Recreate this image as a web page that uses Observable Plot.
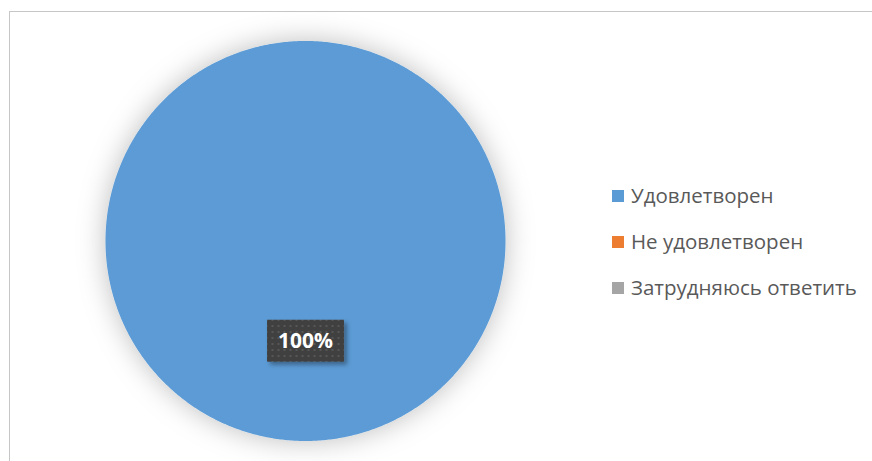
<!DOCTYPE html>
<html>
<head>
<meta charset="utf-8">
<script src="https://cdn.jsdelivr.net/npm/d3@7"></script>
<script src="https://cdn.jsdelivr.net/npm/@observablehq/plot@0.6"></script>
<style>
  html, body { margin: 0; padding: 0; background: #fff; }
  #wrap { position: relative; width: 872px; height: 461px; overflow: hidden; font-family: "Open Sans", "Noto Sans", sans-serif; }
  #frame { position: absolute; left: 9px; top: 11px; width: 900px; height: 500px; border: 1.5px solid #c6c6c6; box-sizing: border-box; }
  #legend { position: absolute; left: 612px; top: 172px; }
  .item { display: flex; align-items: center; height: 46px; font-size: 20.5px; color: #595959; white-space: nowrap; }
  .sw { width: 12px; height: 12px; margin-right: 7px; margin-top: 2px; }
  svg { position: absolute; left: 0; top: 0; }
</style>
</head>
<body>
<div id="wrap">
  <div id="frame"></div>
  <div id="chart"></div>
  <div id="legend"></div>
</div>
<script>
const categories = ["Удовлетворен", "Не удовлетворен", "Затрудняюсь ответить"];
const values = [100, 0, 0];
const colors = ["#5B9BD5", "#ED7D31", "#A5A5A5"];

const total = d3.sum(values);
const arcs = d3.pie().sort(null)(values);

// polygon vertices of each slice, in unit-circle coordinates
const slicePoints = [];
arcs.forEach((a, i) => {
  if (a.endAngle - a.startAngle <= 0) return;
  const n = Math.max(2, Math.ceil((a.endAngle - a.startAngle) / (Math.PI / 360)));
  slicePoints.push({cat: categories[i], x: 0, y: 0});
  for (let k = 0; k <= n; k++) {
    const t = a.startAngle + (a.endAngle - a.startAngle) * k / n;
    slicePoints.push({cat: categories[i], x: Math.sin(t), y: Math.cos(t)});
  }
  slicePoints.push({cat: categories[i], x: 0, y: 0});
});

const labels = arcs.filter(a => a.value > 0).map((a, i) => {
  const mid = (a.startAngle + a.endAngle) / 2;
  return {x: 0.5 * Math.sin(mid), y: 0.5 * Math.cos(mid), text: Math.round(a.value / total * 100) + "%"};
});

const plot = Plot.plot({
  width: 872,
  height: 461,
  margin: 0,
  style: {background: "transparent", overflow: "visible"},
  x: {domain: [-1, 1], range: [105, 505], axis: null},
  y: {domain: [-1, 1], range: [440.5, 40.5], axis: null},
  color: {domain: categories, range: colors},
  marks: [
    Plot.line(slicePoints, {x: "x", y: "y", z: "cat", fill: "cat", stroke: null, curve: "linear", className: "slices"}),
    Plot.text(labels, {x: "x", y: "y", text: "text", fill: "white", fontWeight: "bold", fontSize: 21, fontFamily: "Open Sans", className: "lbl"})
  ]
});
document.getElementById("chart").appendChild(plot);

// defs: shadow filters and label pattern
const svg = d3.select(plot);
const defs = svg.insert("defs", ":first-child");
const f = defs.append("filter").attr("id", "pieShadow").attr("x", "-30%").attr("y", "-30%").attr("width", "160%").attr("height", "160%");
f.append("feDropShadow").attr("dx", 0).attr("dy", 0).attr("stdDeviation", 14).attr("flood-color", "#000").attr("flood-opacity", 0.26);
const f2 = defs.append("filter").attr("id", "boxShadow").attr("x", "-30%").attr("y", "-30%").attr("width", "160%").attr("height", "160%");
f2.append("feDropShadow").attr("dx", 3).attr("dy", 3).attr("stdDeviation", 2).attr("flood-color", "#000").attr("flood-opacity", 0.35);
const pat = defs.append("pattern").attr("id", "dots").attr("patternUnits", "userSpaceOnUse").attr("width", 6).attr("height", 6);
pat.append("rect").attr("width", 6).attr("height", 6).attr("fill", "#404040");
pat.append("rect").attr("x", 2).attr("y", 2).attr("width", 2).attr("height", 2).attr("fill", "#575757");

svg.select("g.slices").attr("filter", "url(#pieShadow)");

svg.selectAll("g.lbl text").each(function() {
  const b = this.getBBox();
  const cx = b.x + b.width / 2, cy = b.y + b.height / 2;
  const w = b.width + 22, h = 42;
  const r = d3.select(this.parentNode).insert("rect", "text")
    .attr("x", cx - w / 2).attr("y", cy - h / 2 + 1)
    .attr("width", w).attr("height", h)
    .attr("fill", "url(#dots)")
    .attr("filter", "url(#boxShadow)");
  const tr = this.getAttribute("transform");
  if (tr) r.attr("transform", tr);
});

// legend from the plot's color scale
const color = plot.scale("color");
const leg = d3.select("#legend");
color.domain.forEach((c, i) => {
  const it = leg.append("div").attr("class", "item");
  it.append("div").attr("class", "sw").style("background", color.range[i]);
  it.append("span").text(c);
});
</script>
</body>
</html>
